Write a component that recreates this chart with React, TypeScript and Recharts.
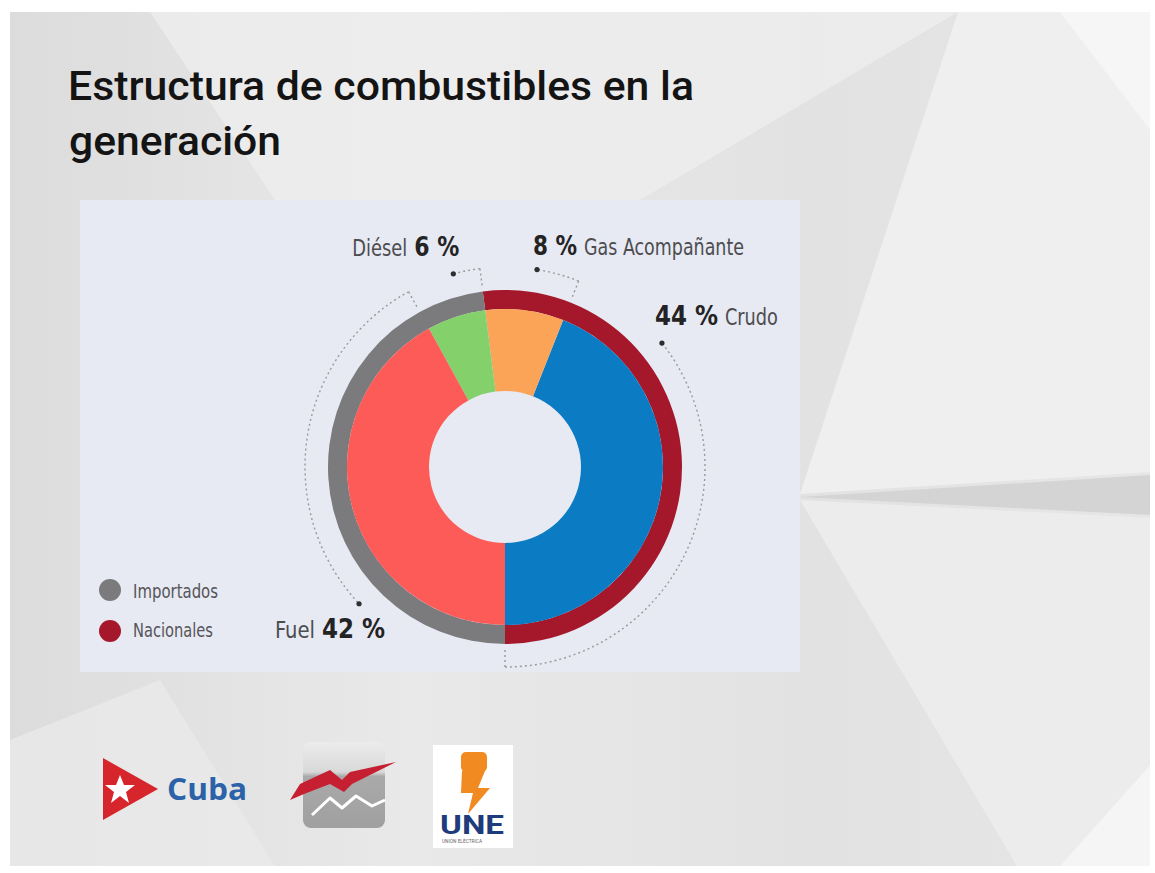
import { PieChart, Pie, Cell } from 'recharts';

// fuel mix (inner ring)
const fuelNames = ['Crudo', 'Gas Acompañante', 'Diésel', 'Fuel'];
const fuelShares = [44, 8, 6, 42];

// origin of the fuel (outer ring)
const originNames = ['Nacionales', 'Importados'];
const originShares = [52, 48];

const legendNames = ['Importados', 'Nacionales'];

const fuelColors: Record<string, string> = {
  Crudo: '#0b7cc4',
  'Gas Acompañante': '#fba457',
  'Diésel': '#84d06b',
  Fuel: '#fd5b57',
};
const originColors: Record<string, string> = {
  Nacionales: '#a5182b',
  Importados: '#7b7b7d',
};

const fuelData = fuelNames.map((name, i) => ({ name, value: fuelShares[i] }));
const originData = originNames.map((name, i) => ({ name, value: originShares[i] }));

const CX = 505;
const CY = 467;
const HOLE = 76;
const RING_IN = 158;
const RING_OUT = 177;
const ARC_R = 200;

const condensed = '"Liberation Sans Narrow", "DejaVu Sans Condensed", "Roboto", sans-serif';

// where each callout sits: fraction of its sector for the dot, text offset from the dot
const callouts: Record<string, any> = {
  Crudo: { frac: 0.81, dx: -7, dy: -18, nameFirst: false, nameW: 53, valW: 63 },
  'Gas Acompañante': { frac: 0.43, dx: -4, dy: -15, nameFirst: false, nameW: 160, valW: 44 },
  'Diésel': { frac: 0.36, dx: 6, dy: -18, nameFirst: true, nameW: 55, valW: 45 },
  Fuel: { frac: 0.69, dx: 26, dy: 34, nameFirst: true, nameW: 40, valW: 63 },
};

const RAD = Math.PI / 180;
const polar = (cx: number, cy: number, r: number, a: number) => ({
  x: cx + r * Math.cos(-a * RAD),
  y: cy + r * Math.sin(-a * RAD),
});

const renderCallout = (props: any) => {
  const { cx, cy, startAngle, endAngle, name, value } = props;
  const c = callouts[name];
  if (!c) return null;
  const dotA = startAngle + (endAngle - startAngle) * c.frac;
  const p0 = polar(cx, cy, ARC_R, startAngle);
  const p1 = polar(cx, cy, ARC_R, dotA);
  const t0 = polar(cx, cy, RING_OUT + 6, startAngle);
  const large = dotA - startAngle > 180 ? 1 : 0;
  const gap = 7;
  const valText = `${value} %`;
  let nameX: number;
  let valX: number;
  if (c.nameFirst) {
    valX = p1.x + c.dx - c.valW;
    nameX = valX - gap - c.nameW;
  } else {
    valX = p1.x + c.dx;
    nameX = valX + c.valW + gap;
  }
  const baseY = p1.y + c.dy;
  return (
    <g key={`callout-${name}`}>
      <line x1={t0.x} y1={t0.y} x2={p0.x} y2={p0.y} stroke="#9a9a9a" strokeWidth={1.4} strokeDasharray="2 3" />
      <path
        d={`M${p0.x},${p0.y} A${ARC_R},${ARC_R} 0 ${large} 0 ${p1.x},${p1.y}`}
        fill="none"
        stroke="#9a9a9a"
        strokeWidth={1.4}
        strokeDasharray="2 3"
      />
      <circle cx={p1.x} cy={p1.y} r={2.6} fill="#2e2e2e" />
      <text
        x={nameX}
        y={baseY}
        fontFamily={condensed}
        fontSize={23}
        fill="#4d4d4f"
        textLength={c.nameW}
        lengthAdjust="spacingAndGlyphs"
      >
        {name}
      </text>
      <text
        x={valX}
        y={baseY}
        fontFamily={condensed}
        fontSize={27}
        fontWeight="bold"
        fill="#232323"
        textLength={c.valW}
        lengthAdjust="spacingAndGlyphs"
      >
        {valText}
      </text>
    </g>
  );
};

function Backdrop() {
  return (
    <svg width={1155} height={873} style={{ position: 'absolute', left: 0, top: 0 }}>
      <defs>
        <linearGradient id="bgGrad" x1="0" y1="0" x2="1" y2="0">
          <stop offset="0%" stopColor="#dcdcdc" />
          <stop offset="35%" stopColor="#e9e9e9" />
          <stop offset="70%" stopColor="#e2e2e2" />
          <stop offset="100%" stopColor="#e6e6e6" />
        </linearGradient>
        <linearGradient id="logoGrad" x1="0" y1="0" x2="0" y2="1">
          <stop offset="0%" stopColor="#ececec" />
          <stop offset="35%" stopColor="#d8d8d8" />
          <stop offset="40%" stopColor="#a9a9a9" />
          <stop offset="100%" stopColor="#a0a0a0" />
        </linearGradient>
      </defs>
      <rect x={10} y={12} width={1140} height={854} fill="url(#bgGrad)" />
      <polygon points="150,12 958,12 640,200 275,200" fill="#eeeeee" opacity={0.8} />
      <polygon points="958,12 1150,12 1150,472 800,494" fill="#efefef" />
      <polygon points="1060,12 1150,12 1150,130" fill="#f6f6f6" />
      <polygon points="800,497 1150,475 1150,515" fill="#d4d4d4" />
      <polygon points="800,500 1150,518 1150,765 1060,866 1017,866" fill="#ececec" />
      <polygon points="1150,765 1150,866 1060,866" fill="#f5f5f5" />
      <polygon points="10,740 160,680 275,866 10,866" fill="#ebebeb" opacity={0.7} />

      {/* title */}
      <text x={68} y={100} fontFamily='"Roboto", "Liberation Sans", sans-serif' fontWeight={500} fontSize={41} fill="#141414" textLength={626} lengthAdjust="spacingAndGlyphs">
        Estructura de combustibles en la
      </text>
      <text x={69} y={155} fontFamily='"Roboto", "Liberation Sans", sans-serif' fontWeight={500} fontSize={41} fill="#141414" textLength={212} lengthAdjust="spacingAndGlyphs">
        generación
      </text>

      {/* chart panel */}
      <rect x={80} y={200} width={720} height={472} fill="#e7e9f3" />

      {/* legend */}
      {legendNames.map((n, i) => (
        <g key={n}>
          <circle cx={110} cy={590 + i * 41} r={11} fill={originColors[n]} />
          <text
            x={133}
            y={598 + i * 39}
            fontFamily={condensed}
            fontSize={20}
            fill="#555558"
            textLength={n === 'Importados' ? 85 : 80}
            lengthAdjust="spacingAndGlyphs"
          >
            {n}
          </text>
        </g>
      ))}

      {/* logos */}
      <polygon points="103,758 103,820 158,789" fill="#d6262c" />
      <polygon
        points="120,775 124,785 135,785 126,792 129,803 120,796 111,803 114,792 105,785 116,785"
        fill="#ffffff"
      />
      <text x={167} y={800} fontFamily='"Open Sans", "Liberation Sans", sans-serif' fontWeight="bold" fontSize={31} fill="#2b62a8" textLength={80} lengthAdjust="spacingAndGlyphs">
        Cuba
      </text>

      <rect x={303} y={742} width={82} height={86} rx={8} fill="url(#logoGrad)" />
      <path d="M312,815 L330,798 L342,808 L356,796 L372,806 L385,800" fill="none" stroke="#ffffff" strokeWidth={3} strokeLinejoin="round" />
      <polygon points="290,800 300,784 330,770 342,780 350,772 396,762 352,784 344,792 330,784 304,794" fill="#c51f31" />

      <rect x={433} y={745} width={80} height={103} fill="#ffffff" />
      <rect x={461} y={752} width={26} height={20} rx={5} fill="#f28a22" />
      <polygon points="462,771 485,771 478,788 490,788 468,814 473,793 461,793" fill="#f28a22" />
      <text x={440} y={834} fontFamily='"Roboto", "Liberation Sans", sans-serif' fontWeight="bold" fontSize={26} fill="#1e3c7c" textLength={64} lengthAdjust="spacingAndGlyphs">
        UNE
      </text>
      <text x={442} y={843} fontFamily='"Roboto", sans-serif' fontSize={5} fill="#666" textLength={40} lengthAdjust="spacingAndGlyphs">
        UNIÓN ELÉCTRICA
      </text>
    </svg>
  );
}

export default function App() {
  return (
    <div style={{ position: 'absolute', left: 0, top: 0, width: 1155, height: 873, background: '#ffffff' }}>
      <Backdrop />
      <div style={{ position: 'absolute', left: 0, top: 0 }}>
        <PieChart width={1155} height={873} margin={{ top: 0, right: 0, bottom: 0, left: 0 }}>
          <Pie
            data={originData}
            dataKey="value"
            nameKey="name"
            cx={CX}
            cy={CY}
            innerRadius={RING_IN}
            outerRadius={RING_OUT}
            startAngle={-90}
            endAngle={270}
            stroke="none"
            isAnimationActive={false}
          >
            {originData.map((d) => (
              <Cell key={d.name} fill={originColors[d.name]} />
            ))}
          </Pie>
          <Pie
            data={fuelData}
            dataKey="value"
            nameKey="name"
            cx={CX}
            cy={CY}
            innerRadius={HOLE}
            outerRadius={RING_IN}
            startAngle={-90}
            endAngle={270}
            stroke="none"
            label={renderCallout}
            labelLine={false}
            isAnimationActive={false}
          >
            {fuelData.map((d) => (
              <Cell key={d.name} fill={fuelColors[d.name]} />
            ))}
          </Pie>
        </PieChart>
      </div>
    </div>
  );
}
